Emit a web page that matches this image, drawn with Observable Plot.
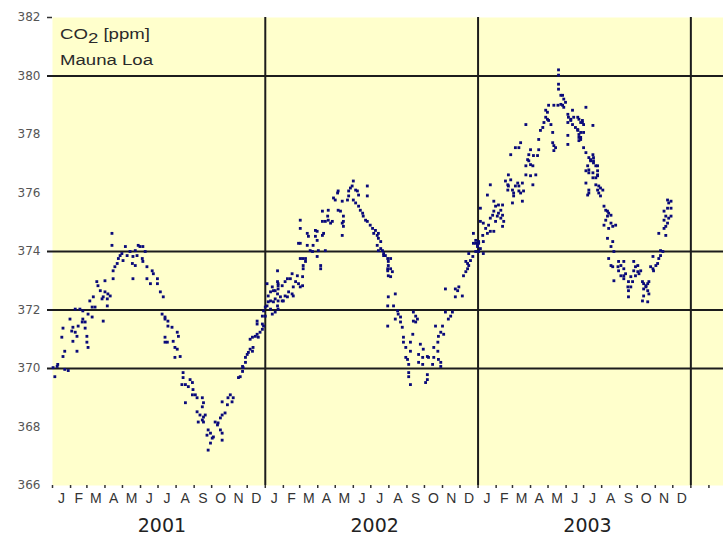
<!DOCTYPE html>
<html>
<head>
<meta charset="utf-8">
<script src="https://cdn.jsdelivr.net/npm/d3@7"></script>
<script src="https://cdn.jsdelivr.net/npm/@observablehq/plot@0.6"></script>
<style>
  html, body { margin: 0; padding: 0; background: #ffffff; }
  #chart { width: 723px; height: 538px; }
</style>
</head>
<body>
<div id="chart"></div>
<script>
// Daily CO2 observations at Mauna Loa: [days since 2001-01-01, ppm]
const obs2001 = [
[1,370.03],[4,369.72],[8,370.07],[9,370.14],[16,371.07],[18,370.41],[18,371.38],[21,369.97],[21,370.59],[27,369.93],
[30,371.69],[33,371.28],[35,371.41],[35,370.93],[39,371.24],[39,372.03],[42,371.10],[42,370.59],[44,371.45],[47,372.03],
[51,371.59],[52,371.97],[52,371.69],[56,371.38],[56,371.59],[59,371.10],[59,370.90],[61,370.72],[61,371.86],[64,372.31],
[68,371.76],[68,372.10],[70,372.45],[73,372.10],[76,372.97],[78,372.83],[82,372.66],[85,372.38],[87,372.45],[87,371.62],
[90,372.62],[90,373.00],[94,372.38],[94,372.14],[95,372.55],[99,372.48],[102,374.62],[102,374.21],[104,373.07],[104,373.34],
[107,373.48],[111,373.59],[113,373.76],[116,373.86],[119,373.93],[121,373.69],[125,374.17],[128,373.86],[133,374.00],[137,373.59],
[138,373.83],[138,373.07],[142,374.03],[142,373.52],[145,373.86],[147,374.21],[150,374.17],[154,373.76],[155,374.17],[155,373.66],
[159,374.00],[162,373.48],[162,373.07],[168,372.90],[171,373.34],[173,373.24],[180,373.07],[180,372.90],[185,372.62],[188,371.86],
[190,372.45],[193,371.69],[193,370.90],[193,371.76],[193,371.07],[197,370.90],[198,371.45],[198,371.62],[205,371.41],[207,370.93],
[210,370.72],[210,370.38],[214,371.24],[214,370.66],[216,371.10],[219,370.41],[222,369.45],[224,369.86],[224,369.69],[228,369.45],
[228,368.83],[233,369.38],[236,369.62],[240,369.52],[240,369.10],[241,369.28],[245,369.10],[248,369.00],[248,368.52],[250,368.17],
[253,368.41],[257,369.00],[257,368.69],[257,368.24],[259,368.83],[259,368.34],[259,368.17],[262,368.41],[265,367.72],[267,367.90],
[267,367.21],[271,367.79],[271,367.45],[274,367.62],[276,367.66],[279,368.17],[283,368.07],[284,368.14],[288,368.31],[288,367.90],
[291,368.41],[291,367.79],[291,367.55],[291,368.86],[296,368.48],[300,368.76],[301,369.00],[305,369.10],[308,368.86],[310,369.00],
[319,369.69],[322,369.72],[326,369.90],[326,370.07],[327,370.03],[331,370.21],[331,370.38],[334,370.48],[336,370.55],[339,370.66],
[339,371.00],[343,370.59],[343,371.07],[344,370.72],[348,371.10],[351,371.17],[351,371.52],[351,371.62],[353,371.07],[356,371.24],
[360,371.34],[360,371.52],[360,371.79],[362,371.45],[362,371.97]
];
const obs2002 = [
[365,372.10],[365,371.79],[368,372.14],[368,372.90],[370,372.28],[370,372.48],[374,372.31],[374,372.62],[374,372.03],[377,372.79],
[377,371.86],[379,372.28],[379,372.66],[382,372.66],[382,372.38],[382,371.93],[386,372.97],[386,372.14],[386,372.55],[386,373.34],
[387,372.83],[387,372.03],[387,372.31],[387,372.90],[387,372.72],[391,372.45],[394,372.31],[394,372.83],[396,372.31],[399,372.48],
[399,372.97],[403,372.45],[403,373.07],[405,372.62],[408,373.07],[411,372.55],[411,373.24],[413,372.48],[413,372.79],[417,372.97],
[420,373.17],[422,372.90],[422,374.28],[425,372.79],[425,373.76],[425,374.28],[425,374.79],[425,375.07],[429,372.83],[429,373.14],
[429,373.76],[430,373.41],[430,373.52],[434,373.66],[434,373.76],[437,374.21],[437,374.62],[439,374.52],[442,374.03],[446,374.00],
[447,374.21],[451,374.52],[451,374.72],[454,374.38],[454,373.83],[454,374.69],[456,374.03],[460,373.52],[460,373.41],[463,374.55],
[463,375.03],[463,375.38],[465,374.62],[468,374.03],[468,375.03],[472,375.21],[473,375.07],[473,375.41],[477,374.97],[480,375.03],
[482,375.83],[485,375.76],[489,376.00],[490,375.41],[490,376.07],[494,375.38],[497,374.97],[497,374.55],[497,375.72],[499,375.21],
[499,374.86],[499,375.03],[506,375.76],[508,375.90],[508,376.07],[511,376.17],[514,376.24],[516,376.41],[516,375.76],[520,376.10],
[520,375.66],[523,376.07],[525,375.93],[525,375.55],[528,375.41],[532,375.31],[533,375.21],[537,375.07],[540,376.24],[540,375.90],
[540,375.03],[545,374.90],[549,374.79],[551,374.62],[554,374.72],[557,374.55],[557,374.21],[559,374.45],[559,374.62],[559,374.03],
[563,374.10],[563,374.34],[566,374.03],[568,373.93],[568,373.86],[571,373.86],[575,373.76],[575,373.41],[575,372.14],[575,371.45],
[575,373.34],[576,373.66],[576,372.45],[576,373.52],[576,373.17],[580,373.76],[580,373.41],[580,373.14],[583,373.31],[585,372.14],
[588,372.55],[588,371.69],[592,371.97],[593,371.86],[597,371.76],[597,371.59],[600,371.41],[602,371.07],[602,370.90],[606,370.72],
[606,370.38],[609,370.31],[611,370.14],[611,369.86],[611,369.72],[614,370.90],[614,370.59],[614,369.45],[618,371.17],[619,371.93],
[619,371.62],[623,371.79],[623,371.59],[626,371.69],[628,370.48],[628,370.21],[631,370.83],[635,370.38],[635,370.14],[636,370.66],
[640,369.52],[643,370.41],[643,369.79],[643,369.62],[645,370.38],[652,370.14],[654,370.38],[654,370.72],[657,371.45],[661,370.90],
[661,370.59],[662,371.10],[662,370.31],[666,371.24],[666,370.07],[666,370.21],[669,371.45],[671,371.17],[674,371.93],[674,372.72],
[679,371.69],[683,371.79],[686,371.93],[691,372.72],[691,372.45],[695,372.66],[697,372.79],[703,372.48],[705,373.17],[709,373.31],
[709,373.66],[712,373.41],[712,373.59],[714,373.52],[714,373.93],[717,373.69],[721,373.83],[722,374.62],[722,374.28],[726,374.38],
[726,374.28],[726,374.00],[729,374.17],[729,374.21]
];
const obs2003 = [
[731,374.28],[731,374.00],[731,374.34],[734,374.10],[734,375.03],[734,375.48],[738,374.55],[739,374.34],[739,373.93],[739,374.97],
[743,374.79],[746,374.62],[746,375.93],[748,374.90],[751,374.69],[751,375.14],[751,376.28],[755,375.24],[757,374.69],[757,375.38],
[757,375.72],[760,375.03],[760,375.55],[763,375.21],[765,375.31],[765,375.59],[769,375.14],[769,375.41],[772,375.24],[772,374.86],
[772,375.59],[774,375.03],[777,376.41],[781,376.28],[781,376.10],[782,376.24],[782,376.62],[786,376.45],[786,377.31],[789,376.10],
[789,375.66],[791,376.00],[791,375.90],[794,376.24],[794,377.55],[798,376.34],[800,376.07],[800,376.24],[800,377.55],[803,376.00],
[803,377.72],[806,376.34],[806,375.72],[808,376.07],[812,376.62],[812,376.93],[812,378.34],[815,377.14],[817,377.10],[817,377.31],
[820,376.97],[820,377.48],[820,376.59],[824,376.93],[824,376.28],[825,377.28],[829,376.62],[832,377.28],[834,377.48],[834,377.83],
[837,378.14],[841,378.24],[843,378.41],[846,378.59],[846,378.83],[849,378.52],[849,378.76],[851,378.48],[851,379.00],[855,378.34],
[858,378.07],[858,377.72],[860,379.00],[860,377.62],[860,377.45],[863,377.55],[867,379.00],[868,379.55],[868,379.72],[868,380.03],
[868,380.21],[872,379.03],[872,379.34],[875,379.00],[875,379.34],[877,378.93],[877,379.21],[880,379.10],[884,378.69],[884,378.41],
[884,377.97],[884,377.66],[885,378.59],[889,378.48],[889,378.52],[892,378.34],[892,378.83],[894,378.59],[897,378.24],[901,378.59],
[901,378.17],[901,378.14],[903,378.52],[903,377.90],[903,378.00],[903,377.79],[906,378.41],[906,378.07],[906,377.83],[906,377.90],
[909,378.48],[909,378.41],[911,378.34],[911,377.55],[911,378.07],[915,378.93],[915,377.38],[915,376.76],[915,376.34],[918,376.93],
[918,375.93],[920,377.21],[920,376.79],[920,376.10],[920,376.00],[920,376.69],[923,377.14],[923,377.10],[927,378.31],[927,377.31],
[927,376.69],[927,376.52],[928,377.10],[928,377.21],[928,377.03],[932,376.93],[932,376.52],[932,376.28],[935,376.62],[935,376.93],
[935,376.76],[935,376.59],[935,376.10],[937,376.24],[937,376.00],[940,376.17],[940,375.90],[944,376.10],[946,375.55],[946,374.90],
[949,375.41],[949,375.07],[952,375.38],[952,375.21],[952,374.45],[954,375.31],[954,374.79],[954,373.76],[958,375.24],[958,374.97],
[958,374.17],[958,373.52],[961,374.86],[961,374.34],[961,373.48],[963,374.00],[963,373.00],[966,374.90],[970,373.48],[971,373.66],
[971,373.34],[975,373.52],[975,373.17],[980,373.66],[980,373.41],[980,373.07],[980,373.17],[983,373.24],[987,372.79],[988,372.97],
[988,372.66],[988,372.45],[992,373.14],[992,372.79],[995,372.97],[997,373.66],[997,373.34],[1000,373.48],[1000,373.17],[1004,373.31],
[1004,373.52],[1006,373.24],[1009,373.34],[1012,372.97],[1012,372.31],[1014,372.90],[1014,372.72],[1014,372.48],[1018,372.83],[1018,372.79],
[1021,372.90],[1021,372.66],[1021,372.28],[1023,372.97],[1023,372.55],[1026,373.48],[1030,373.41],[1030,373.83],[1031,373.34],[1035,373.52],
[1038,373.59],[1040,373.76],[1040,374.62],[1043,373.86],[1043,374.03],[1047,374.00],[1049,374.79],[1049,375.07],[1049,375.38],[1052,374.86],
[1052,375.21],[1052,374.55],[1055,374.97],[1055,375.48],[1055,375.76],[1057,375.14],[1057,375.66],[1061,375.21],[1061,375.48],[1061,375.72]
];

const yTickValues = [366, 368, 370, 372, 374, 376, 378, 380, 382];
const gridValues = [370, 372, 374, 380];
const smallTickValues = [382];
const monthLetters = ["J","F","M","A","M","J","J","A","S","O","N","D"];
const years = [2001, 2002, 2003];
const seriesTitle = ["CO", "2", " [ppm]"];
const stationName = "Mauna Loa";

const origin = Date.UTC(2001, 0, 1);
const toDays = d => (d - origin) / 864e5;

const data = [...obs2001, ...obs2002, ...obs2003].map(([day, ppm]) => ({day, ppm}));

// month boundaries (Jan 2001 .. Feb 2004) and month label positions
const monthStarts = d3.utcMonth.range(new Date(origin), new Date(Date.UTC(2004, 1, 2))).map(toDays);
const monthLabels = [];
for (const y of years) {
  for (let m = 0; m < 12; m++) {
    const a = toDays(Date.UTC(y, m, 1)), b = toDays(Date.UTC(y, m + 1, 1));
    monthLabels.push({day: (a + b) / 2, text: monthLetters[m]});
  }
}
const yearLabels = years.map(y => ({day: (toDays(Date.UTC(y, 0, 1)) + toDays(Date.UTC(y + 1, 0, 1))) / 2, text: String(y)}));
const yearLines = [2002, 2003, 2004].map(y => toDays(Date.UTC(y, 0, 1)));

// title block in the top-left corner of the plot area
function titleMark(index, scales) {
  const x0 = scales.x(0) + 8;
  const y0 = scales.y(382);
  const g = d3.create("svg:g")
    .attr("font-family", "'Liberation Sans', Arial, sans-serif")
    .attr("font-size", 14)
    .attr("text-anchor", "start")
    .attr("fill", "#2a2a2a");
  const t = g.append("text")
    .attr("x", x0)
    .attr("y", y0 + 22)
    .attr("textLength", 90)
    .attr("lengthAdjust", "spacingAndGlyphs");
  t.append("tspan").text(seriesTitle[0]);
  t.append("tspan").attr("dy", 4).text(seriesTitle[1]);
  t.append("tspan").attr("dy", -4).text(seriesTitle[2]);
  g.append("text")
    .attr("x", x0)
    .attr("y", y0 + 48)
    .attr("textLength", 93)
    .attr("lengthAdjust", "spacingAndGlyphs")
    .text(stationName);
  return g.node();
}

const chart = Plot.plot({
  width: 723,
  height: 538,
  marginLeft: 52,
  marginRight: 0,
  marginTop: 17,
  marginBottom: 53,
  style: {fontFamily: "'Liberation Sans', Arial, sans-serif", background: "#ffffff", overflow: "visible"},
  x: {domain: [0, 1151], label: null},
  y: {domain: [366, 382], label: null},
  marks: [
    Plot.frame({fill: "#ffffcc", stroke: null}),
    Plot.ruleY(gridValues, {stroke: "#1c1c1c", strokeWidth: 2, insetLeft: -5}),
    Plot.ruleX(yearLines, {stroke: "#1c1c1c", strokeWidth: 2}),
    Plot.axisY({ticks: smallTickValues, tickSize: 5, tickFormat: () => "", stroke: "#333", strokeWidth: 1.5}),
    Plot.axisY({ticks: yTickValues, tickSize: 0, tickPadding: 12, tickFormat: d => String(d), fontSize: 12, fill: "#555", fontFamily: "'DejaVu Sans', sans-serif"}),
    Plot.axisX({ticks: monthStarts, tickSize: 3, tickFormat: () => "", stroke: "#333", strokeWidth: 1.5}),
    Plot.text(monthLabels, {x: "day", text: "text", frameAnchor: "bottom", dy: 13, lineAnchor: "middle", fontSize: 14, fill: "#333"}),
    Plot.text(yearLabels, {x: "day", text: "text", frameAnchor: "bottom", dx: 3, dy: 40, lineAnchor: "middle", fontSize: 19, fill: "#222", fontFamily: "'DejaVu Sans', sans-serif"}),
    Plot.dot(data, {x: "day", y: "ppm", symbol: "square", r: 1.6, fill: "#0a0a7a", stroke: null}),
    titleMark
  ]
});
document.getElementById("chart").appendChild(chart);
</script>
</body>
</html>
